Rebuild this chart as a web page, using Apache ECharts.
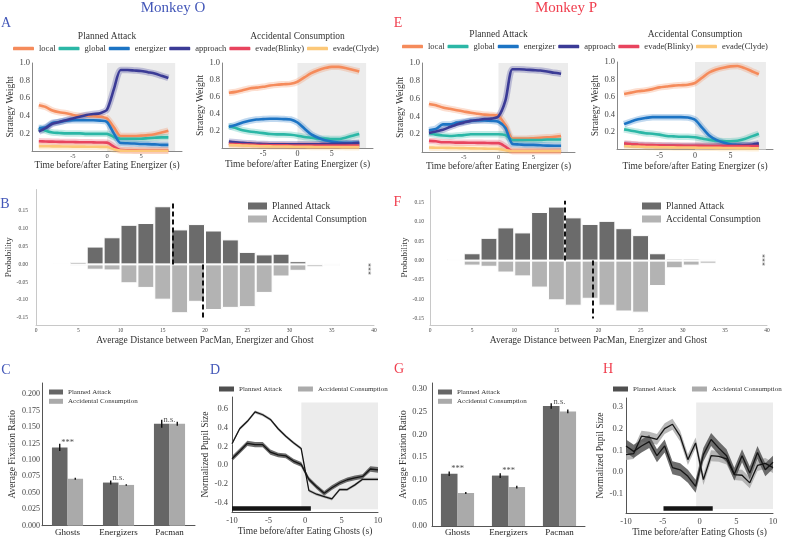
<!DOCTYPE html>
<html><head><meta charset="utf-8">
<script src="https://cdn.jsdelivr.net/npm/echarts@6/dist/echarts.min.js"></script>
<style>html,body{margin:0;padding:0;background:#fff}#c{width:786px;height:537px}</style>
</head><body><div id="c"></div>
<script>
const FONT = 'Liberation Serif';
const BLUE = '#4357b8', RED = '#f03e4e';

// ---------- Panels A / E : strategy weights ----------
const timesA = [-10,-9,-8,-7,-6,-5,-4,-3,-2,-1,0,1,2,3,4,5,6,7,8,9];
const strategies = ['local','global','energizer','approach','evade(Blinky)','evade(Clyde)'];
const strategyColors = ['#f58b5b','#2bb7a6','#1c74c4','#3b3b96','#e8445e','#fcc878'];
const weightTicks = [0.2,0.4,0.6,0.8,1.0];
const timeTicksA = [-5,0,5];

// Monkey O, planned attack
const OP_local     = [0.52,0.50,0.46,0.44,0.43,0.41,0.40,0.40,0.395,0.39,0.37,0.27,0.17,0.17,0.17,0.175,0.18,0.19,0.21,0.23];
const OP_global    = [0.26,0.23,0.21,0.205,0.20,0.20,0.20,0.195,0.195,0.195,0.195,0.16,0.14,0.14,0.14,0.14,0.145,0.15,0.155,0.155];
const OP_energizer = [0.26,0.27,0.32,0.33,0.345,0.35,0.35,0.35,0.35,0.345,0.33,0.20,0.09,0.088,0.085,0.08,0.078,0.075,0.07,0.07];
const OP_approach  = [0.22,0.26,0.31,0.33,0.35,0.37,0.39,0.41,0.42,0.43,0.47,0.70,0.92,0.92,0.915,0.91,0.895,0.88,0.855,0.83];
const OP_blinky    = [0.11,0.108,0.106,0.104,0.103,0.102,0.10,0.10,0.098,0.096,0.095,0.05,0.01,0.008,0.007,0.006,0.006,0.005,0.005,0.005];
const OP_clyde     = [0.055,0.054,0.053,0.052,0.051,0.05,0.05,0.049,0.048,0.047,0.045,0.02,0.004,0.003,0.003,0.003,0.003,0.003,0.003,0.003];
// Monkey O, accidental consumption
const OA_local     = [0.65,0.66,0.68,0.70,0.71,0.72,0.735,0.745,0.75,0.755,0.78,0.83,0.88,0.915,0.94,0.955,0.955,0.94,0.92,0.90];
const OA_global    = [0.26,0.235,0.21,0.195,0.185,0.175,0.165,0.16,0.16,0.155,0.145,0.13,0.12,0.11,0.11,0.105,0.105,0.12,0.145,0.165];
const OA_energizer = [0.25,0.27,0.30,0.32,0.335,0.34,0.345,0.345,0.34,0.335,0.30,0.23,0.16,0.12,0.09,0.075,0.065,0.06,0.06,0.06];
const OA_approach  = [0.075,0.068,0.06,0.055,0.05,0.047,0.045,0.045,0.045,0.045,0.045,0.045,0.045,0.045,0.046,0.048,0.05,0.052,0.055,0.06];
const OA_blinky    = [0.05,0.046,0.042,0.04,0.037,0.035,0.033,0.032,0.031,0.03,0.03,0.03,0.03,0.03,0.03,0.03,0.03,0.03,0.03,0.03];
const OA_clyde     = [0.035,0.032,0.029,0.026,0.023,0.02,0.019,0.018,0.017,0.016,0.015,0.014,0.013,0.012,0.012,0.011,0.011,0.01,0.01,0.01];
// Monkey P, planned attack
const PP_local     = [0.54,0.525,0.50,0.485,0.47,0.455,0.44,0.43,0.42,0.415,0.405,0.30,0.15,0.15,0.15,0.155,0.16,0.165,0.17,0.18];
const PP_global    = [0.21,0.195,0.185,0.18,0.185,0.19,0.20,0.20,0.20,0.20,0.20,0.19,0.135,0.135,0.135,0.135,0.135,0.14,0.14,0.14];
const PP_energizer = [0.245,0.26,0.31,0.31,0.33,0.34,0.35,0.355,0.355,0.35,0.34,0.27,0.09,0.085,0.08,0.08,0.075,0.072,0.07,0.07];
const PP_approach  = [0.215,0.23,0.25,0.28,0.31,0.33,0.35,0.36,0.37,0.375,0.40,0.58,0.93,0.93,0.925,0.92,0.915,0.905,0.89,0.88];
const PP_blinky    = [0.125,0.12,0.11,0.11,0.105,0.105,0.104,0.103,0.102,0.10,0.10,0.06,0.01,0.01,0.01,0.01,0.01,0.01,0.01,0.01];
const PP_clyde     = [0.05,0.048,0.047,0.046,0.045,0.043,0.041,0.04,0.038,0.036,0.035,0.02,0.01,0.01,0.01,0.01,0.01,0.01,0.01,0.01];
// Monkey P, accidental consumption
const PA_local     = [0.635,0.65,0.665,0.675,0.69,0.71,0.72,0.73,0.735,0.74,0.76,0.82,0.88,0.915,0.935,0.95,0.955,0.93,0.895,0.86];
const PA_global    = [0.23,0.215,0.20,0.185,0.18,0.17,0.155,0.15,0.145,0.145,0.14,0.125,0.11,0.10,0.095,0.095,0.10,0.12,0.15,0.18];
const PA_energizer = [0.29,0.32,0.345,0.36,0.37,0.37,0.37,0.37,0.37,0.365,0.34,0.25,0.16,0.11,0.08,0.06,0.055,0.05,0.05,0.05];
const PA_approach  = [0.06,0.055,0.05,0.047,0.045,0.043,0.042,0.041,0.04,0.04,0.04,0.04,0.04,0.04,0.04,0.042,0.044,0.048,0.055,0.07];
const PA_blinky    = [0.07,0.062,0.056,0.052,0.05,0.048,0.046,0.045,0.044,0.043,0.042,0.041,0.04,0.04,0.04,0.04,0.04,0.04,0.04,0.04];
const PA_clyde     = [0.04,0.036,0.033,0.03,0.028,0.026,0.025,0.024,0.023,0.022,0.021,0.02,0.02,0.019,0.018,0.017,0.016,0.016,0.015,0.015];

// ---------- Panels B / F : distance histograms ----------
const distBinCenters = [3,5,7,9,11,13,15,17,19,21,23,25,27,29,31,33,35,37];
const distTicks = [0,5,10,15,20,25,30,35,40];
const probTicks = [-0.15,-0.10,-0.05,0,0.05,0.10,0.15];
const B_planned    = [0.003,0.007,0.050,0.076,0.111,0.116,0.163,0.098,0.113,0.095,0.070,0.035,0.028,0.030,0.009,0.003,0.003,0.0005];
const B_accidental = [0.001,0.005,0.015,0.017,0.053,0.066,0.099,0.137,0.105,0.128,0.122,0.120,0.080,0.034,0.018,0.008,0.004,0.001];
const F_planned    = [0.004,0.019,0.059,0.086,0.073,0.126,0.140,0.112,0.095,0.103,0.084,0.066,0.019,0.005,0.005,0.003,0.001,0.001];
const F_accidental = [0.002,0.013,0.016,0.031,0.041,0.070,0.103,0.117,0.099,0.117,0.132,0.135,0.066,0.020,0.013,0.008,0.001,0.001];
const B_means = [16.2, 19.7];   // planned, accidental
const F_means = [15.95, 19.3];

// ---------- Panels C / G : fixation ratio ----------
const fixTargets = ['Ghosts','Energizers','Pacman'];
const C_planned = [0.119,0.0656,0.155], C_plannedErr = [0.0055,0.003,0.006];
const C_accidental = [0.0714,0.062,0.155], C_accidentalErr = [0.0015,0.0012,0.003];
const C_sig = ['***','n.s.','n.s.'];
const C_ticks = [0,0.025,0.05,0.075,0.1,0.125,0.15,0.175,0.2];
const G_planned = [0.114,0.110,0.262], G_plannedErr = [0.005,0.005,0.006];
const G_accidental = [0.072,0.085,0.250], G_accidentalErr = [0.002,0.003,0.004];
const G_sig = ['***','***','n.s.'];
const G_ticks = [0,0.05,0.1,0.15,0.2,0.25,0.3];

// ---------- Panels D / H : pupil size ----------
const timesP = [-10,-8.95,-7.89,-6.84,-5.79,-4.74,-3.68,-2.63,-1.58,-0.53,0.53,1.58,2.63,3.68,4.74,5.79,6.84,7.89,8.95,10];
const pupilTimeTicks = [-10,-5,0,5,10];
const D_planned    = [0.07,0.15,0.235,0.22,0.22,0.14,0.11,0.10,0.045,0.01,-0.15,-0.23,-0.30,-0.24,-0.19,-0.155,-0.135,-0.12,-0.04,-0.05];
const D_plannedErr = [0.028,0.028,0.028,0.028,0.028,0.028,0.025,0.025,0.025,0.025,0.025,0.025,0.025,0.025,0.025,0.025,0.025,0.025,0.03,0.03];
const D_accidental = [0.23,0.39,0.47,0.57,0.54,0.49,0.39,0.31,0.24,0.18,-0.27,-0.31,-0.335,-0.36,-0.26,-0.26,-0.21,-0.15,-0.15,-0.15];
const D_accidentalErr = [0.016,0.016,0.016,0.016,0.016,0.016,0.016,0.016,0.016,0.016,0.016,0.016,0.016,0.016,0.016,0.016,0.016,0.016,0.016,0.016];
const D_ticks = [-0.4,-0.2,0,0.2,0.4,0.6];
const H_planned    = [0.12,0.095,0.12,0.14,0.075,0.12,0.02,0.01,-0.02,-0.066,0.08,0.15,0.11,0.075,-0.01,0.075,-0.005,0.09,0.01,0.045];
const H_plannedErr = [0.03,0.03,0.03,0.03,0.03,0.03,0.03,0.03,0.03,0.03,0.03,0.03,0.03,0.03,0.03,0.03,0.03,0.03,0.03,0.03];
const H_accidental = [0.08,0.085,0.165,0.16,0.15,0.20,0.22,0.165,0.057,0.134,-0.035,0.075,0.072,0.06,-0.012,-0.015,-0.05,0.03,0.04,0.02];
const H_accidentalErr = [0.025,0.025,0.025,0.025,0.025,0.025,0.025,0.025,0.025,0.025,0.025,0.025,0.025,0.025,0.025,0.025,0.025,0.025,0.025,0.025];
const H_ticks = [-0.1,0,0.1,0.2,0.3];

// decorations (not data)
const shadeA = [0, 10];
const shadeD = {x:[-0.5,10], y:[-0.47,0.67]}, sigBarD = {x:[-10,0.8], y:-0.46};
const shadeH = {x:[-0.45,10], y:[-0.17,0.32]}, sigBarH = {x:[-4.9,1.8], y:-0.168};

// ---------- layout ----------
const grids = [
  {left:32, top:63, width:150, height:88},
  {left:222, top:63, width:151, height:85},
  {left:422, top:63, width:153, height:89},
  {left:617, top:62, width:156, height:87.5},
  {left:36, top:189.5, width:338, height:135.5},
  {left:430, top:190, width:337, height:135},
  {left:42, top:383, width:153, height:142.7},
  {left:232, top:397, width:146, height:115},
  {left:432, top:383, width:153, height:143},
  {left:626, top:398, width:147, height:115}
].map(g => Object.assign({outerBoundsMode:'none', containLabel:false}, g));

const pairs = (xs, ys) => xs.map((x,i) => [x, ys[i]]);

function valAxis(gi, min, max, ticks, o) {
  const lab = {customValues:ticks, fontFamily:FONT, fontSize:o.fs, color:'#444', margin:o.margin};
  if (o.fmt) lab.formatter = o.fmt;
  return {gridIndex:gi, type:'value', min, max,
    axisLine:{show:true, onZero:false, lineStyle:{color:o.lc || '#888', width:1}},
    axisTick:{show:false}, splitLine:{show:false}, axisLabel:lab,
    name:o.name || '', nameLocation:'middle', nameGap:o.gap || 10,
    nameTextStyle:{fontFamily:FONT, fontSize:o.nfs || 9.5, color:'#333'}};
}
const f1 = v => v.toFixed(1), f2 = v => v.toFixed(2), f3 = v => v.toFixed(3);

const xAxes = [], yAxes = [];
[8.5,11.5,7.5,11.5].forEach((gap, gi) => {
  xAxes.push(valAxis(gi, -11, 11, timeTicksA, {fs: gi%2===0 ? 6.5 : 8, margin:2, name:'Time before/after Eating Energizer (s)', gap}));
});
[15.5,14,16,15].forEach((gap, gi) => {
  yAxes.push(valAxis(gi, 0, 1, weightTicks, {fs:8.5, margin:2, fmt:f1, name:'Strategy Weight', gap}));
});
xAxes.push(valAxis(4, 0, 40, distTicks, {fs:5.5, margin:3, lc:'#c8c8c8', name:'Average Distance between PacMan, Energizer and Ghost', gap:10.5}));
yAxes.push(valAxis(4, -0.17, 0.21, probTicks, {fs:5.5, margin:8, lc:'#c8c8c8', fmt:f2, name:'Probability', gap:16.5, nfs:9}));
xAxes.push(valAxis(5, 0, 40, distTicks, {fs:5.5, margin:3, lc:'#c8c8c8', name:'Average Distance between PacMan, Energizer and Ghost', gap:10.5}));
yAxes.push(valAxis(5, -0.167, 0.183, probTicks, {fs:5.5, margin:6, lc:'#c8c8c8', fmt:f2, name:'Probability', gap:19.5, nfs:9}));
const catAxis = gi => ({gridIndex:gi, type:'category', data:fixTargets,
  axisLine:{lineStyle:{color:'#555'}}, axisTick:{show:false},
  axisLabel:{fontFamily:FONT, fontSize:9, color:'#222', margin:2}});
xAxes.push(catAxis(6));
yAxes.push(valAxis(6, 0, 0.217, C_ticks, {fs:8, margin:2, lc:'#555', fmt:f3, name:'Average Fixation Ratio', gap:24.5}));
xAxes.push(valAxis(7, -10, 10, pupilTimeTicks, {fs:8.5, margin:4, lc:'#555', name:'Time before/after Eating Ghosts (s)', gap:14}));
yAxes.push(valAxis(7, -0.5, 0.73, D_ticks, {fs:8.5, margin:4, lc:'#555', fmt:f1, name:'Normalized Pupil Size', gap:19}));
xAxes.push(catAxis(8));
yAxes.push(valAxis(8, 0, 0.312, G_ticks, {fs:8.5, margin:5, lc:'#555', fmt:f2, name:'Average Fixation Ratio', gap:22}));
xAxes.push(valAxis(9, -10, 10, pupilTimeTicks, {fs:8.5, margin:4, lc:'#555', name:'Time before/after Eating Ghosts (s)', gap:14}));
yAxes.push(valAxis(9, -0.189, 0.341, H_ticks, {fs:8.5, margin:3, lc:'#555', fmt:f1, name:'Normalized Pupil Size', gap:19.6}));

// ---------- series ----------
const series = [];
function shadeSeries(gi, xr, yr) {
  series.push({type:'line', name:'_shade'+gi, xAxisIndex:gi, yAxisIndex:gi, data:[], silent:true, z:0,
    markArea:{silent:true, itemStyle:{color:'#ececec'}, data:[[{xAxis:xr[0], yAxis:yr[0]},{xAxis:xr[1], yAxis:yr[1]}]]}});
}
const strategyPanels = [
  [OP_local,OP_global,OP_energizer,OP_approach,OP_blinky,OP_clyde],
  [OA_local,OA_global,OA_energizer,OA_approach,OA_blinky,OA_clyde],
  [PP_local,PP_global,PP_energizer,PP_approach,PP_blinky,PP_clyde],
  [PA_local,PA_global,PA_energizer,PA_approach,PA_blinky,PA_clyde]
];
strategyPanels.forEach((arrs, gi) => {
  shadeSeries(gi, shadeA, [0, 1]);
  arrs.forEach((arr, si) => {
    const d = pairs(timesA, arr);
    series.push({type:'line', name:'_band'+gi+'_'+si, xAxisIndex:gi, yAxisIndex:gi, data:d, showSymbol:false,
      smooth:0.25, silent:true, z:2, lineStyle:{color:strategyColors[si], width:6.5, opacity:0.28}});
    series.push({type:'line', name:strategies[si], xAxisIndex:gi, yAxisIndex:gi, data:d, showSymbol:false,
      smooth:0.25, z:3, itemStyle:{color:strategyColors[si]}, lineStyle:{color:strategyColors[si], width:2.6}});
  });
});

function histSeries(gi, planned, accidental, means, topP, botA) {
  const bw = grids[gi].width / 40 * 2;
  series.push({type:'bar', name:'Planned Attack', xAxisIndex:gi, yAxisIndex:gi, data:pairs(distBinCenters, planned),
    barWidth:bw, barGap:'-100%', itemStyle:{color:'#6b6b6b', borderColor:'#fff', borderWidth:1}});
  series.push({type:'bar', name:'Accidental Consumption', xAxisIndex:gi, yAxisIndex:gi,
    data:pairs(distBinCenters, accidental.map(v => -v)),
    barWidth:bw, barGap:'-100%', itemStyle:{color:'#b3b3b3', borderColor:'#fff', borderWidth:1},
    markLine:{silent:true, symbol:['none','none'], label:{show:false}, z:10,
      lineStyle:{color:'#111', width:2, type:[5,3]},
      data:[[{coord:[means[0],0]},{coord:[means[0],topP]}],[{coord:[means[1],0]},{coord:[means[1],botA]}]]}});
}
histSeries(4, B_planned, B_accidental, B_means, 0.176, -0.15);
histSeries(5, F_planned, F_accidental, F_means, 0.155, -0.15);

function errSeries(gi, vals, errs, side, gapFrac) {
  series.push({type:'custom', name:'_err'+gi+side, xAxisIndex:gi, yAxisIndex:gi, silent:true, z:5,
    data: vals.map((v,i) => [i, v, errs[i]]), encode:{x:0, y:1},
    renderItem(params, api) {
      const i = api.value(0), v = api.value(1), e = api.value(2);
      const band = api.size([1,0])[0];
      const bw = band * (1 - gapFrac) / 2;
      const cx = api.coord([i, v])[0] + side * bw / 2;
      return {type:'line', shape:{x1:cx, y1:api.coord([i, v+e])[1], x2:cx, y2:api.coord([i, v-e])[1]},
        style:{stroke:'#111', lineWidth:1.4}};
    }});
}
function fixSeries(gi, p, pe, a, ae, sig, gapFrac) {
  series.push({type:'bar', name:'Planned Attack', xAxisIndex:gi, yAxisIndex:gi, data:p,
    barGap:'0%', barCategoryGap:(gapFrac*100)+'%', itemStyle:{color:'#666'}});
  series.push({type:'bar', name:'Accidental Consumption', xAxisIndex:gi, yAxisIndex:gi, data:a,
    barGap:'0%', barCategoryGap:(gapFrac*100)+'%', itemStyle:{color:'#aaa'}});
  errSeries(gi, p, pe, -1, gapFrac);
  errSeries(gi, a, ae, 1, gapFrac);
  series.push({type:'scatter', name:'_sig'+gi, xAxisIndex:gi, yAxisIndex:gi, symbolSize:0, silent:true, z:6,
    data: sig.map((s,i) => ({value:[i, Math.max(p[i], a[i])], label:{formatter:s}})),
    label:{show:true, position:'top', distance:0, fontFamily:FONT, fontSize:8.5, color:'#222'}});
}
fixSeries(6, C_planned, C_plannedErr, C_accidental, C_accidentalErr, C_sig, 0.39);
fixSeries(8, G_planned, G_plannedErr, G_accidental, G_accidentalErr, G_sig, 0.35);

function bandSeries(gi, vals, errs, fill, name, id) {
  series.push({type:'custom', name:'_bd'+id, xAxisIndex:gi, yAxisIndex:gi, silent:true, z:2,
    data:[[timesP[0], vals[0]]], encode:{x:0, y:1},
    renderItem(params, api) {
      const up = timesP.map((t,i) => api.coord([t, vals[i] + errs[i]]));
      const lo = timesP.map((t,i) => api.coord([t, vals[i] - errs[i]])).reverse();
      return {type:'polygon', shape:{points: up.concat(lo)}, style:{fill, opacity:0.85}};
    }});
  series.push({type:'line', name, xAxisIndex:gi, yAxisIndex:gi, data:pairs(timesP, vals), showSymbol:false, z:4,
    itemStyle:{color:fill}, lineStyle:{color:'#151515', width:1.3}});
}
function pupilPanel(gi, shade, bar, p, pe, a, ae) {
  shadeSeries(gi, shade.x, shade.y);
  bandSeries(gi, a, ae, '#ababab', 'Accidental Consumption', 'a'+gi);
  bandSeries(gi, p, pe, '#555555', 'Planned Attack', 'p'+gi);
  series.push({type:'line', name:'_bar'+gi, xAxisIndex:gi, yAxisIndex:gi, data:[], silent:true, z:5,
    markLine:{silent:true, symbol:['none','none'], label:{show:false},
      lineStyle:{color:'#151515', width:4.5, type:'solid'},
      data:[[{coord:[bar.x[0], bar.y]},{coord:[bar.x[1], bar.y]}]]}});
}
pupilPanel(7, shadeD, sigBarD, D_planned, D_plannedErr, D_accidental, D_accidentalErr);
pupilPanel(9, shadeH, sigBarH, H_planned, H_plannedErr, H_accidental, H_accidentalErr);

// ---------- legends ----------
const stratLegend = (left, top) => ({left, top, padding:0, itemWidth:21, itemHeight:3.5, itemGap:3, icon:'roundRect',
  selectedMode:false, textStyle:{fontFamily:FONT, fontSize:8.5, color:'#333'},
  data: strategies.map((s,i) => ({name:s, itemStyle:{color:strategyColors[i]}}))});
const condLegend = (left, top, o) => ({left, top, padding:0, orient:o.orient, itemWidth:o.w, itemHeight:o.h, itemGap:o.gap,
  icon:'rect', selectedMode:false,
  textStyle:{fontFamily:FONT, fontSize:o.fs, lineHeight:o.lh, color:'#333'},
  data:[{name:'Planned Attack', itemStyle:{color:o.c1, borderWidth:0}}, {name:'Accidental Consumption', itemStyle:{color:o.c2, borderWidth:0}}]});
const legends = [
  stratLegend(13, 44), stratLegend(402, 42),
  condLegend(248, 200.5, {orient:'vertical', w:19, h:7, gap:2, fs:9.5, lh:11, c1:'#6b6b6b', c2:'#b3b3b3'}),
  condLegend(642, 200.5, {orient:'vertical', w:19, h:7, gap:2, fs:9.5, lh:11, c1:'#6b6b6b', c2:'#b3b3b3'}),
  condLegend(49, 388, {orient:'vertical', w:14, h:5, gap:1.3, fs:7, lh:8, c1:'#666', c2:'#aaa'}),
  condLegend(438, 388, {orient:'vertical', w:14, h:5, gap:1.3, fs:7, lh:8, c1:'#666', c2:'#aaa'}),
  condLegend(219, 385, {orient:'horizontal', w:15, h:5, gap:16, fs:7, lh:8, c1:'#4f4f4f', c2:'#ababab'}),
  condLegend(613, 385, {orient:'horizontal', w:15, h:5, gap:16, fs:7, lh:8, c1:'#4f4f4f', c2:'#ababab'})
];

// ---------- free texts ----------
const txt = (text, x, y, size, color, rot) => ({type:'text', x, y, rotation:rot || 0, silent:true,
  style:{text, fontFamily:FONT, fontSize:size, fill:color, align:'center', verticalAlign:'middle', textAlign:'center', textVerticalAlign:'middle'}});
const graphics = [
  txt('Monkey O', 173, 8, 15, BLUE), txt('Monkey P', 566, 8, 15, RED),
  txt('A', 6, 23, 14, BLUE), txt('B', 5, 204, 14, BLUE), txt('C', 6, 370, 14, BLUE), txt('D', 215, 370, 14, BLUE),
  txt('E', 398, 23, 14, RED), txt('F', 397.5, 202.5, 14, RED), txt('G', 399, 369, 14, RED), txt('H', 608, 369, 14, RED),
  txt('Planned Attack', 107, 36, 9.5, '#333'), txt('Accidental Consumption', 297.5, 36, 9.5, '#333'),
  txt('Planned Attack', 498.5, 34.5, 9.5, '#333'), txt('Accidental Consumption', 695, 34.5, 9.5, '#333'),
  txt('***', 371.5, 269, 8, '#444', Math.PI/2), txt('***', 765.5, 260, 8, '#444', Math.PI/2)
];

const chart = echarts.init(document.getElementById('c'), null, {renderer:'canvas', width:786, height:537});
chart.setOption({
  animation:false, backgroundColor:'#fff',
  textStyle:{fontFamily:FONT},
  grid:grids, xAxis:xAxes, yAxis:yAxes, series, legend:legends,
  graphic:{elements:graphics}
});
</script></body></html>
